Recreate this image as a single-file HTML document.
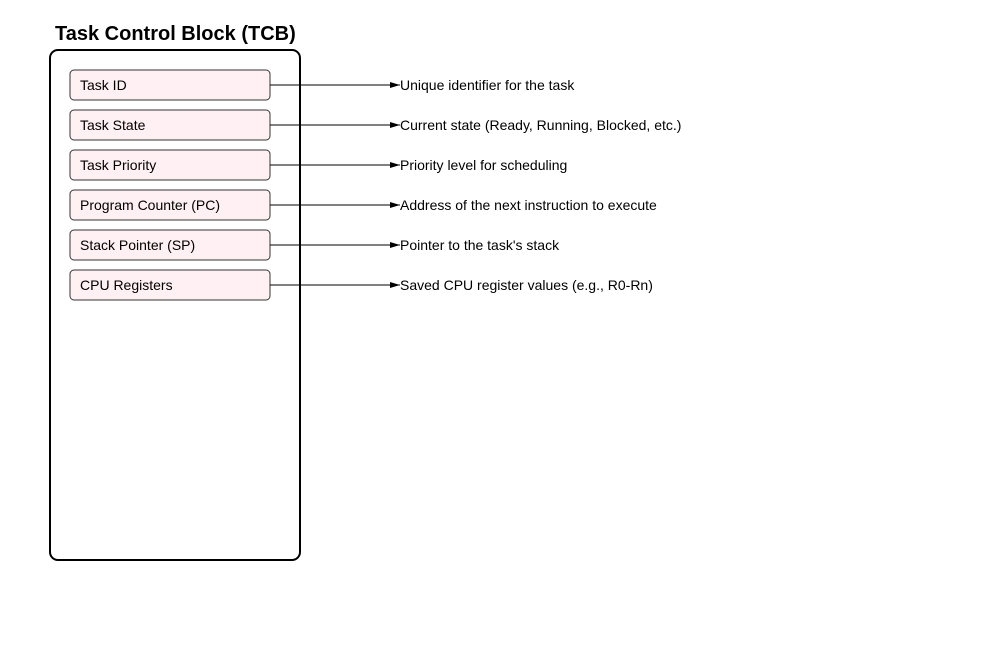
<!DOCTYPE html>
<html><head><style>body{margin:0;background:#fff}</style></head><body>
<svg width="1000" height="650" xmlns="http://www.w3.org/2000/svg" font-family="Liberation Sans, Arial, sans-serif">
<rect width="1000" height="650" fill="#fff"/>
<text x="55" y="40" font-size="20" font-weight="bold" fill="#000">Task Control Block (TCB)</text>
<rect x="50" y="50" width="250" height="510" rx="8" fill="none" stroke="#000" stroke-width="2"/>
<defs><marker id="a" markerWidth="10" markerHeight="8" refX="10" refY="4" orient="auto" markerUnits="userSpaceOnUse"><path d="M0,1 L10,4 L0,7 z" fill="#000"/></marker></defs>
<g font-size="14" fill="#000">
<g transform="translate(0,0)"><rect x="70" y="70" width="200" height="30" rx="4" fill="#fff0f3" stroke="#333"/><text x="80" y="90">Task ID</text><line x1="270" y1="85" x2="400" y2="85" stroke="#000" marker-end="url(#a)"/><text x="400" y="90">Unique identifier for the task</text></g>
<g transform="translate(0,40)"><rect x="70" y="70" width="200" height="30" rx="4" fill="#fff0f3" stroke="#333"/><text x="80" y="90">Task State</text><line x1="270" y1="85" x2="400" y2="85" stroke="#000" marker-end="url(#a)"/><text x="400" y="90">Current state (Ready, Running, Blocked, etc.)</text></g>
<g transform="translate(0,80)"><rect x="70" y="70" width="200" height="30" rx="4" fill="#fff0f3" stroke="#333"/><text x="80" y="90">Task Priority</text><line x1="270" y1="85" x2="400" y2="85" stroke="#000" marker-end="url(#a)"/><text x="400" y="90">Priority level for scheduling</text></g>
<g transform="translate(0,120)"><rect x="70" y="70" width="200" height="30" rx="4" fill="#fff0f3" stroke="#333"/><text x="80" y="90">Program Counter (PC)</text><line x1="270" y1="85" x2="400" y2="85" stroke="#000" marker-end="url(#a)"/><text x="400" y="90">Address of the next instruction to execute</text></g>
<g transform="translate(0,160)"><rect x="70" y="70" width="200" height="30" rx="4" fill="#fff0f3" stroke="#333"/><text x="80" y="90">Stack Pointer (SP)</text><line x1="270" y1="85" x2="400" y2="85" stroke="#000" marker-end="url(#a)"/><text x="400" y="90">Pointer to the task's stack</text></g>
<g transform="translate(0,200)"><rect x="70" y="70" width="200" height="30" rx="4" fill="#fff0f3" stroke="#333"/><text x="80" y="90">CPU Registers</text><line x1="270" y1="85" x2="400" y2="85" stroke="#000" marker-end="url(#a)"/><text x="400" y="90">Saved CPU register values (e.g., R0-Rn)</text></g>
</g>
</svg>
</body></html>
